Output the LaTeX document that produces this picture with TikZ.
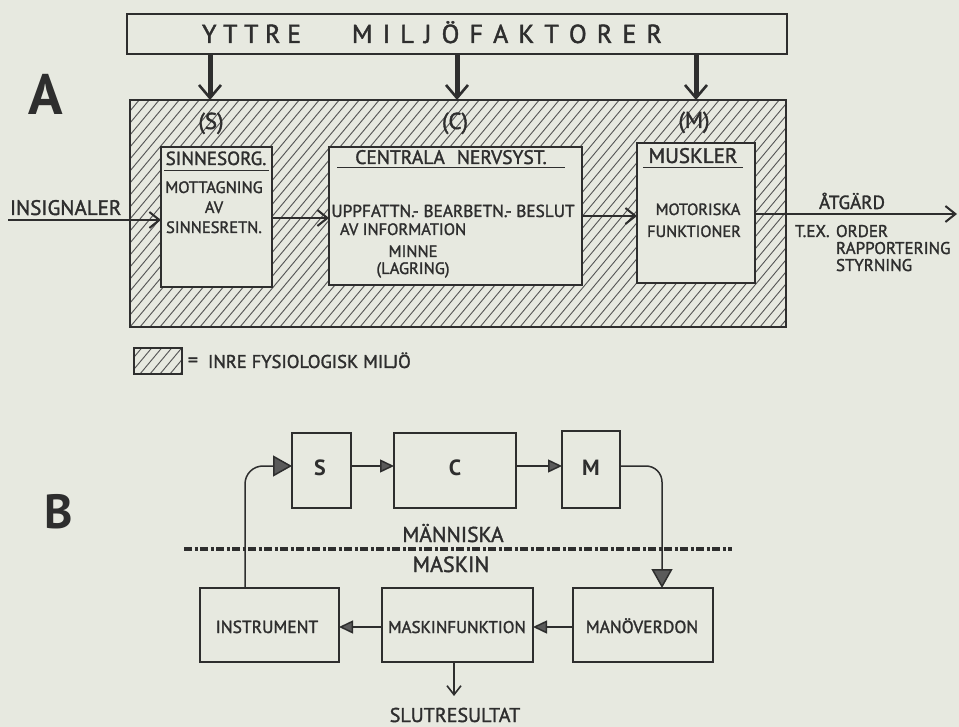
\documentclass[tikz,border=0pt]{standalone}
\usepackage{fontspec}
\setmainfont{PT Sans}[UprightFeatures={FakeBold=1.6}]
\usetikzlibrary{arrows.meta,calc}
\definecolor{paper}{HTML}{E7E9E0}
\definecolor{ink}{HTML}{2E2E2E}
\definecolor{hatchc}{HTML}{555555}
\definecolor{headfill}{HTML}{5A5A5A}
\newcommand\fs[1]{\fontsize{#1}{#1}\selectfont}

\begin{document}
\begin{tikzpicture}[x=1pt,y=-1pt,
  every node/.style={inner sep=0pt, outer sep=0pt, text=ink},
  boxA/.style={draw=ink, line width=1.8pt, fill=paper},
  boxB/.style={draw=ink, line width=1.7pt, fill=paper},
  lbl/.style={anchor=base},
  lbll/.style={anchor=base west},
  hatch/.style={draw=hatchc, line width=0.9pt},
  uline/.style={draw=ink, line width=1.6pt},
  feedA/.style={draw=ink, line width=5pt, -{Straight Barb[length=13pt, width=22pt, line width=2.6pt]}},
  flowA/.style={draw=ink, line width=2.6pt, -{Straight Barb[length=10pt, width=16pt, line width=2pt]}},
  flowB/.style={draw=ink, line width=1.5pt, -{Triangle[length=14pt, width=13pt, fill=headfill]}},
  bigB/.style={draw=ink, line width=1.5pt, -{Triangle[length=19pt, width=21pt, fill=headfill]}},
  split/.style={draw=ink, line width=3.5pt, dash pattern=on 8pt off 2.5pt on 3pt off 2.5pt}
]
\fill[paper] (0,0) rectangle (959,727);
\useasboundingbox (0,0) rectangle (959,727);

% ---------------- Part A ----------------
\node[font=\bfseries\fs{57}, lbl] (labA) at (46,115) {A};

% outer environment
\node[boxA, minimum width=660pt, minimum height=40pt] (yttre) at (457,34) {};
\node[lbl, font=\fs{26}] (w1) at (251.5,43) {\makebox[99pt][s]{Y\hfill T\hfill T\hfill R\hfill E}};
\node[lbl, font=\fs{26}] (w2) at (507,43) {\makebox[310pt][s]{M\hfill I\hfill L\hfill J\hfill Ö\hfill F\hfill A\hfill K\hfill T\hfill O\hfill R\hfill E\hfill R}};

% inner physiological environment (hatched)
\node[draw=ink, line width=1.8pt, minimum width=656pt, minimum height=227pt] (inre) at (458,213.5) {};
\begin{scope}
  \clip (130,100) rectangle (786,327);
  \foreach \i in {-120,-110,...,790} \draw[hatch] (\i,327) -- ++(230,-276);
\end{scope}
\draw[ink, line width=1.8pt] (inre.north west) rectangle (inre.south east);

% functional blocks
\node[boxA, minimum width=111pt, minimum height=140pt] (sinn) at (216.5,217) {};
\node[boxA, minimum width=253pt, minimum height=138pt] (cns) at (455.5,216) {};
\node[boxA, minimum width=118pt, minimum height=140pt] (musk) at (696,213) {};

\node[lbl, font=\fs{23}] (pS) at (211,129) {(S)};
\node[lbl, font=\fs{23}] (pC) at (455,129) {(C)};
\node[lbl, font=\fs{23}] (pM) at (694,128) {(M)};

\node[lbl, font=\fs{19}] (tS) at (216,165) {SINNESORG.};
\draw[uline] (164,170.5) -- (269,170.5);
\node[lbl, font=\fs{16.5}] at (214,193) {MOTTAGNING};
\node[lbl, font=\fs{16.5}] at (214,213) {AV};
\node[lbl, font=\fs{16.5}] at (214,233) {SINNESRETN.};

\node[lbl, font=\fs{19.5}] (tC) at (451,164) {CENTRALA\hspace{12pt}NERVSYST.};
\draw[uline] (337,167.5) -- (565,167.5);
\node[lbl, font=\fs{17.3}] at (453,217) {UPPFATTN.- BEARBETN.- BESLUT};
\node[lbll, font=\fs{16.5}] at (340,235) {AV INFORMATION};
\node[lbl, font=\fs{16.5}] at (413,257) {MINNE};
\node[lbl, font=\fs{16.5}] at (413,274) {(LAGRING)};

\node[lbl, font=\fs{21}] (tM) at (693,163) {MUSKLER};
\draw[uline] (643,167.5) -- (743,167.5);
\node[lbl, font=\fs{16.3}] at (698,215) {MOTORISKA};
\node[lbl, font=\fs{16.3}] at (694,237) {FUNKTIONER};

% influences of the outer environment
\coordinate (colS) at (210,0);
\coordinate (colC) at (457,0);
\coordinate (colM) at (696,0);
\draw[feedA] (colS |- yttre.south) -- (colS |- inre.north);
\draw[feedA] (colC |- yttre.south) -- (colC |- inre.north);
\draw[feedA] (colM |- yttre.south) -- (colM |- inre.north);

% signal flow
\node[lbll, font=\fs{21}] (insig) at (10,215) {INSIGNALER};
\coordinate (insStart) at (8,220);
\draw[flowA] (insStart) -- (insStart -| sinn.west);
\coordinate (rowSC) at (0,218);
\draw[flowA] (sinn.east |- rowSC) -- (cns.west |- rowSC);
\coordinate (rowCM) at (0,216);
\draw[flowA] (cns.east |- rowCM) -- (musk.west |- rowCM);
\coordinate (outEnd) at (957,214);
\draw[flowA] (musk.east |- outEnd) -- (outEnd);

\node[lbl, font=\fs{19}] (atg) at (852,209) {ÅTGÄRD};
\node[lbll, font=\fs{17}] at (795,237) {T.EX.};
\node[lbll, font=\fs{17}] at (836,237) {ORDER};
\node[lbll, font=\fs{17}] at (836,254) {RAPPORTERING};
\node[lbll, font=\fs{17}] at (836,271) {STYRNING};

% legend
\node[draw=ink, line width=1.6pt, minimum width=48pt, minimum height=26pt] (leg) at (158,361) {};
\begin{scope}
  \clip (134,348) rectangle (182,374);
  \foreach \i in {60,70,...,190} \draw[hatch] (\i,374) -- ++(230,-276);
\end{scope}
\draw[ink, line width=1.6pt] (leg.north west) rectangle (leg.south east);
\node[font=\fs{20}] at (193,362) {=};
\node[lbll, font=\fs{18.5}] at (208,368) {INRE FYSIOLOGISK MILJÖ};

% ---------------- Part B ----------------
\node[font=\bfseries\fs{48}, lbl] (labB) at (59,528) {B};

\node[boxB, minimum width=59pt, minimum height=75pt] (sB) at (321.5,470.5) {};
\node[boxB, minimum width=122pt, minimum height=75pt] (cB) at (455,470.5) {};
\node[boxB, minimum width=58pt, minimum height=77pt] (mB) at (591,469.5) {};
\node[lbl, font=\bfseries\fs{22}] at (320,475) {S};
\node[lbl, font=\bfseries\fs{22}] at (455,475) {C};
\node[lbl, font=\bfseries\fs{22}] at (591,475) {M};

\node[boxB, minimum width=139pt, minimum height=74pt] (instr) at (269.5,625) {};
\node[boxB, minimum width=151pt, minimum height=74pt] (mfun) at (457.5,625) {};
\node[boxB, minimum width=140pt, minimum height=74pt] (manov) at (643,625) {};
\node[lbl, font=\fs{17.5}] at (267,633) {INSTRUMENT};
\node[lbl, font=\fs{17}] at (457,633) {MASKINFUNKTION};
\node[lbl, font=\fs{17.5}] at (642,633) {MANÖVERDON};

% man / machine boundary
\coordinate (splitL) at (184,549);
\coordinate (splitR) at (732,549);
\draw[split] (splitL) -- (splitR);
\node[lbl, font=\fs{21.5}] at (453,542) {MÄNNISKA};
\node[lbl, font=\fs{22}] at (451,572) {MASKIN};

% loop
\coordinate (rowB) at (0,466);
\coordinate (fbX) at (245,0);
\coordinate (ctlX) at (662,0);
\draw[flowB] (sB.east |- rowB) -- (cB.west |- rowB);
\draw[flowB] (cB.east |- rowB) -- (mB.west |- rowB);
\draw[bigB, rounded corners=16pt] (mB.east |- rowB) -| (ctlX |- manov.north);
\coordinate (rowLow) at (0,627);
\draw[flowB] (manov.west |- rowLow) -- (mfun.east |- rowLow);
\draw[flowB] (mfun.west |- rowLow) -- (instr.east |- rowLow);
\draw[bigB, rounded corners=18pt] (fbX |- instr.north) |- (sB.west |- rowB);

\coordinate (slutArr) at (454,696);
\draw[draw=ink, line width=1.5pt, -{Straight Barb[length=9pt, width=14pt, line width=1.6pt]}] (mfun.south -| slutArr) -- (slutArr);
\node[lbl, font=\fs{20}] (slut) at (455,722) {SLUTRESULTAT};
\end{tikzpicture}
\end{document}
